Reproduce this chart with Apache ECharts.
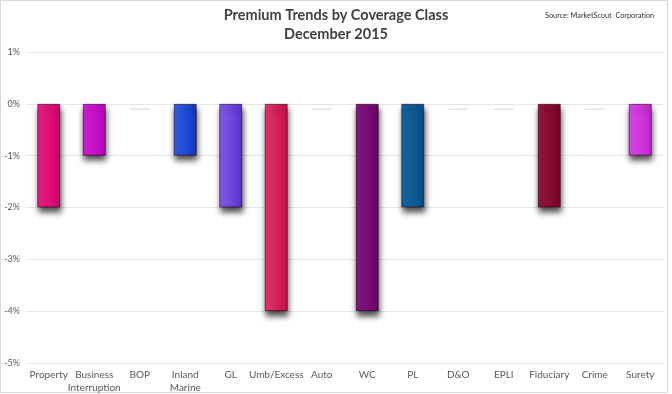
<!DOCTYPE html>
<html><head><meta charset="utf-8">
<script src="https://cdn.jsdelivr.net/npm/echarts@6/dist/echarts.min.js"></script>
<style>html,body{margin:0;padding:0;background:#fff}#c{width:672px;height:394px}</style>
</head><body><div id="c"></div>
<script>
const categories = ['Property','Business\nInterruption','BOP','Inland\nMarine','GL','Umb/Excess','Auto','WC','PL','D&O','EPLI','Fiduciary','Crime','Surety'];
const values = [-2,-1,0,-1,-2,-4,0,-4,-2,0,0,-2,0,-1];
const barColors = [['#ea2385','#d5006c'],['#d41fd8','#bb05bc'],['#ddd','#ddd'],['#2f63e6','#1237c8'],['#8260ea','#5a32d2'],['#e5376a','#cc0c48'],['#ddd','#ddd'],['#861884','#6c0468'],['#17679f','#064f8a'],['#ddd','#ddd'],['#ddd','#ddd'],['#951a3b','#7c0026'],['#ddd','#ddd'],['#dc4ae8','#c325d2']];
const yTicks = [1,0,-1,-2,-3,-4,-5];

const chart = echarts.init(document.getElementById('c'));
const data = values.map((v,i)=>{
  if (v === 0) {
    return {value: v, itemStyle: {color:'rgba(255,255,255,0.01)', borderWidth:0, shadowColor:'rgba(0,0,0,0)'}};
  }
  return {value: v, itemStyle: {
    color: new echarts.graphic.LinearGradient(0,0,1,0,[{offset:0,color:barColors[i][0]},{offset:1,color:barColors[i][1]}]),
    borderColor: 'rgba(40,0,30,0.55)', borderWidth: 1,
    shadowColor:'rgba(0,0,0,0.7)', shadowBlur:6, shadowOffsetY:5, shadowOffsetX:1
  }};
});
const zeroMarks = values.map(v => v === 0 ? -0.1 : null);
chart.setOption({
  animation:false,
  backgroundColor:'#fff',
  title:[{text:'Premium Trends by Coverage Class\nDecember 2015', left:336, top:6, padding:0, textAlign:'center',
    textStyle:{fontFamily:'Lato', fontWeight:'bold', fontSize:14.5, color:'#404040', lineHeight:19}},
    {text:'Source: MarketScout  Corporation', left:545, top:12, padding:0, textStyle:{fontFamily:'Lato', fontWeight:'normal', fontSize:7.3, color:'#303030'}}],
  graphic:[{type:'rect', shape:{x:0.5,y:0.5,width:667,height:392}, style:{fill:'none', stroke:'#d9d9d9', lineWidth:1}, silent:true}],
  grid:{left:26, right:9, top:52, bottom:30},
  xAxis:{type:'category', data:categories, axisLine:{show:false}, axisTick:{show:false},
    axisLabel:{fontFamily:'Lato', fontSize:10, color:'#595959', lineHeight:13, margin:5, interval:0}},
  yAxis:{type:'value', min:-5, max:1, interval:1,
    axisLabel:{formatter:v=>v+'%', fontFamily:'Lato', fontSize:9, color:'#595959', margin:6},
    splitLine:{lineStyle:{color:'#e6e6e6'}}, axisLine:{show:false}, axisTick:{show:false}},
  series:[{type:'bar', data:data, barWidth:23, z:3},
    {type:'scatter', data:zeroMarks, symbol:'rect', symbolSize:[20,2], itemStyle:{color:'#e3e3e3'}, z:2, silent:true}]
});
</script></body></html>
